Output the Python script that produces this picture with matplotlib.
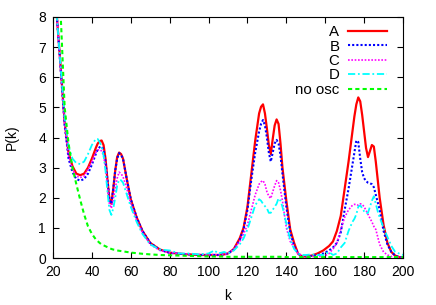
import numpy as np
import matplotlib
matplotlib.use("Agg")
import matplotlib.pyplot as plt

plt.rcParams['font.family'] = ['Liberation Sans', 'DejaVu Sans']
plt.rcParams['font.size'] = 10

# common k grid
k = [20, 22, 24, 26, 28, 30, 32, 34, 36, 38,
     40, 42, 43, 44, 45, 46, 47, 48, 49, 50,
     51, 52, 53, 54, 55, 56, 58, 60, 63, 66,
     70, 75, 80, 85, 90, 95, 100, 103, 105, 108,
     110, 113, 116, 118, 120, 122, 124, 126, 127, 128,
     129, 130, 131, 132, 133, 134, 135, 136, 137, 138,
     140, 142, 144, 146, 148, 150, 153, 156, 159, 162,
     164, 166, 168, 170, 172, 174, 175, 176, 177, 178,
     179, 180, 181, 182, 183, 184, 185, 186, 187, 188,
     190, 192, 194, 196, 198, 200]

p_a = [11, 8.0, 6.3, 4.5, 3.5, 3.05, 2.8, 2.75, 2.8, 3.0,
       3.3, 3.65, 3.8, 3.88, 3.9, 3.75, 3.3, 2.6, 1.95, 1.8,
       2.3, 2.9, 3.35, 3.5, 3.45, 3.3, 2.6, 1.95, 1.35, 0.9,
       0.5, 0.28, 0.18, 0.14, 0.12, 0.1, 0.1, 0.1, 0.1, 0.12,
       0.15, 0.3, 0.65, 1.0, 1.7, 2.8, 3.9, 4.8, 5.02, 5.1,
       4.8, 4.3, 3.75, 3.45, 3.95, 4.4, 4.6, 4.45, 3.8, 3.0,
       1.9, 0.95, 0.5, 0.15, 0.05, 0.05, 0.08, 0.15, 0.25, 0.4,
       0.55, 0.9, 1.4, 2.3, 3.2, 4.2, 4.7, 5.1, 5.33, 5.2,
       4.75, 4.2, 3.65, 3.35, 3.55, 3.75, 3.7, 3.2, 2.6, 2.0,
       1.1, 0.5, 0.2, 0.08, 0.03, 0.02]

p_b = [11, 8.0, 6.2, 4.4, 3.3, 2.85, 2.62, 2.57, 2.62, 2.8,
       3.1, 3.45, 3.6, 3.68, 3.7, 3.6, 3.2, 2.6, 1.95, 1.8,
       2.3, 2.9, 3.3, 3.48, 3.42, 3.3, 2.6, 1.95, 1.35, 0.9,
       0.5, 0.27, 0.17, 0.14, 0.12, 0.1, 0.1, 0.1, 0.1, 0.12,
       0.15, 0.28, 0.6, 0.95, 1.6, 2.6, 3.5, 4.2, 4.45, 4.58,
       4.4, 4.0, 3.5, 3.2, 3.5, 3.8, 3.92, 3.8, 3.4, 2.8,
       1.7, 0.85, 0.4, 0.15, 0.05, 0.05, 0.07, 0.1, 0.15, 0.25,
       0.35, 0.5, 0.85, 1.6, 2.3, 3.1, 3.5, 3.9, 3.85, 3.3,
       2.85, 2.65, 2.55, 2.5, 2.48, 2.45, 2.35, 2.1, 1.85, 1.6,
       0.9, 0.45, 0.2, 0.08, 0.03, 0.02]

p_c = [11, 8.0, 6.2, 4.45, 3.4, 2.95, 2.72, 2.67, 2.72, 2.95,
       3.2, 3.5, 3.58, 3.6, 3.55, 3.4, 3.0, 2.4, 1.8, 1.65,
       1.95, 2.3, 2.65, 2.85, 2.8, 2.7, 2.3, 1.8, 1.25, 0.85,
       0.45, 0.25, 0.18, 0.15, 0.13, 0.12, 0.1, 0.12, 0.1, 0.12,
       0.15, 0.3, 0.55, 0.8, 1.1, 1.6, 2.1, 2.45, 2.53, 2.57,
       2.45, 2.2, 2.05, 1.98, 2.2, 2.4, 2.57, 2.5, 2.25, 1.9,
       1.0, 0.55, 0.35, 0.15, 0.08, 0.05, 0.05, 0.05, 0.05, 0.15,
       0.3, 0.5, 0.95, 1.35, 1.6, 1.75, 1.78, 1.78, 1.75, 1.8,
       1.78, 1.7, 1.58, 1.45, 1.32, 1.2, 1.05, 0.95, 0.7, 0.45,
       0.2, 0.1, 0.05, 0.03, 0.02, 0.02]

p_d = [11, 8.0, 6.3, 4.7, 3.7, 3.3, 3.15, 3.12, 3.2, 3.45,
       3.75, 3.95, 3.95, 3.85, 3.7, 3.4, 2.9, 2.2, 1.6, 1.43,
       1.65, 2.0, 2.4, 2.6, 2.58, 2.5, 2.1, 1.7, 1.2, 0.8,
       0.45, 0.28, 0.25, 0.15, 0.15, 0.12, 0.15, 0.25, 0.15, 0.2,
       0.15, 0.25, 0.45, 0.65, 0.95, 1.35, 1.75, 1.95, 1.9, 1.8,
       1.72, 1.65, 1.5, 1.5, 1.6, 1.7, 1.8, 1.98, 1.9, 1.7,
       1.15, 0.6, 0.3, 0.15, 0.1, 0.1, 0.12, 0.1, 0.1, 0.2,
       0.1, 0.15, 0.35, 0.5, 0.9, 1.2, 1.3, 1.45, 1.7, 1.75,
       1.65, 1.55, 1.48, 1.5, 1.7, 1.9, 2.05, 1.8, 1.55, 1.35,
       1.0, 0.7, 0.4, 0.2, 0.15, 0.1]

p_noosc = [14, 11, 8.0, 5.0, 3.8, 3.0, 2.45, 1.93, 1.45, 1.05,
           0.8, 0.62, 0.56, 0.5, 0.45, 0.42, 0.39, 0.36, 0.33, 0.3,
           0.28, 0.27, 0.25, 0.24, 0.23, 0.22, 0.2, 0.18, 0.16, 0.14,
           0.12, 0.1, 0.09, 0.08, 0.07, 0.06, 0.05, 0.05, 0.05, 0.05,
           0.04, 0.04, 0.04, 0.04, 0.04, 0.04, 0.04, 0.04, 0.04, 0.04,
           0.04, 0.04, 0.04, 0.04, 0.04, 0.04, 0.04, 0.04, 0.04, 0.04,
           0.03, 0.03, 0.03, 0.03, 0.03, 0.03, 0.03, 0.03, 0.03, 0.03,
           0.03, 0.03, 0.03, 0.03, 0.03, 0.03, 0.03, 0.03, 0.03, 0.03,
           0.03, 0.03, 0.03, 0.03, 0.03, 0.03, 0.03, 0.03, 0.03, 0.03,
           0.03, 0.03, 0.03, 0.03, 0.03, 0.03]

fig = plt.figure(figsize=(4.36, 3.05), dpi=100)
ax = fig.add_axes([53 / 436, 47 / 305, 350 / 436, 241 / 305])

ax.plot(k, p_a, color='#ff0000', lw=1.6, ls='-', label='A')
ax.plot(k, p_b, color='#0000ff', lw=1.5, ls=(0, (1, 1)), label='B')
ax.plot(k, p_c, color='#ff00ff', lw=1.2, ls=(0, (1, 1)), label='C')
ax.plot(k, p_d, color='#00ffff', lw=1.3, ls=(0, (4, 1.5, 1, 1.5)), label='D')
ax.plot(k, p_noosc, color='#00ff00', lw=1.5, ls=(0, (2, 1.5)), label='no osc')

ax.set_xlim(20, 200)
ax.set_ylim(0, 8)
ax.set_xticks(np.arange(20, 201, 20))
ax.set_yticks(np.arange(0, 9, 1))
ax.tick_params(direction='in', top=True, right=True, length=4, width=0.8, pad=5)
ax.set_xlabel('k', labelpad=7)
ax.set_ylabel('P(k)', labelpad=14)

ax.legend(loc='upper right', frameon=False, markerfirst=False, fontsize=10.8,
          handlelength=2.6, labelspacing=0.03, handletextpad=0.6,
          borderaxespad=0.3, bbox_to_anchor=(0.985, 1.01))

fig.savefig('out.png', dpi=100)
